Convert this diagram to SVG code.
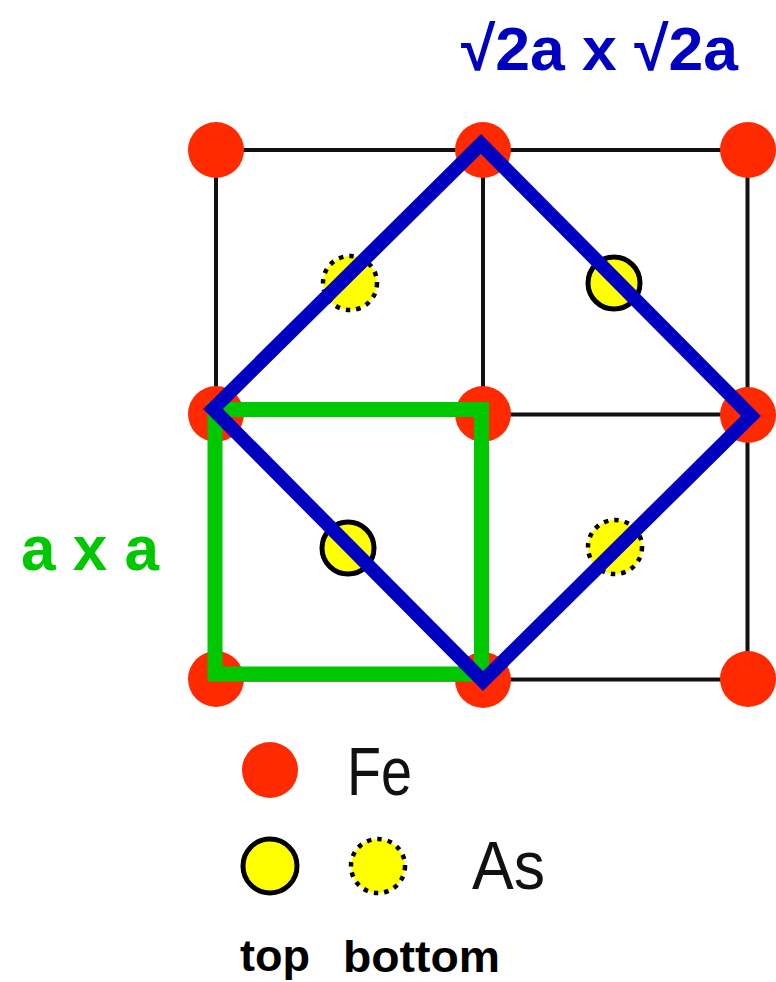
<svg xmlns="http://www.w3.org/2000/svg" width="776" height="982" viewBox="0 0 776 982">
<style>
.grid{stroke:#111;stroke-width:4;fill:none}
.fe{fill:#FF2A00}
.as-top{fill:#FFFF00;stroke:#000;stroke-width:5}
.as-bot{fill:#FFFF00;stroke:#000;stroke-width:4.5;stroke-dasharray:4.5 6}
.lbl{font-family:"Liberation Sans",Arial,sans-serif}
</style>
<rect width="776" height="982" fill="#fff"/>
<g id="grid">
<path class="grid" d="M216 150H748M216 414.5H748M216 679.5H748M216 150V679.5M483 150V679.5M747.5 150V679.5"/>
</g>
<g id="fe-atoms">
<circle class="fe" cx="216" cy="150" r="28"/>
<circle class="fe" cx="483" cy="150" r="28"/>
<circle class="fe" cx="748" cy="150" r="28"/>
<circle class="fe" cx="216" cy="414" r="28"/>
<circle class="fe" cx="483" cy="414" r="28"/>
<circle class="fe" cx="748" cy="415" r="28"/>
<circle class="fe" cx="216" cy="679" r="28"/>
<circle class="fe" cx="483" cy="680" r="28"/>
<circle class="fe" cx="748" cy="679" r="28"/>
</g>
<g id="as-atoms">
<circle class="as-bot" cx="350" cy="283" r="27"/>
<circle class="as-top" cx="614" cy="283" r="26"/>
<circle class="as-top" cx="348" cy="548" r="26"/>
<circle class="as-bot" cx="615" cy="547" r="27"/>
</g>
<g id="cell-axa">
<rect x="215" y="409.5" width="266.5" height="264.5" fill="none" stroke="#00C800" stroke-width="15"/>
</g>
<g id="cell-r2a">
<polygon points="481,144 751,416 483,681 213,409" fill="none" stroke="#0000C0" stroke-width="14" stroke-linejoin="miter"/>
</g>
<g id="titles">
<text class="lbl" x="461" y="70" font-size="62" font-weight="bold" fill="#0000C0" textLength="277" lengthAdjust="spacingAndGlyphs">√2a x √2a</text>
<text class="lbl" x="21" y="570" font-size="63" font-weight="bold" fill="#00C800" textLength="138" lengthAdjust="spacingAndGlyphs">a x a</text>
</g>
<g id="legend">
<circle class="fe" cx="270" cy="770" r="28"/>
<text class="lbl" x="347" y="795" font-size="68" fill="#111" textLength="65" lengthAdjust="spacingAndGlyphs">Fe</text>
<circle class="as-top" cx="270" cy="866" r="27"/>
<circle class="as-bot" cx="378" cy="866" r="27"/>
<text class="lbl" x="472" y="889" font-size="68" fill="#111" textLength="73" lengthAdjust="spacingAndGlyphs">As</text>
<text class="lbl" x="240" y="971" font-size="45" font-weight="bold" fill="#000" textLength="70" lengthAdjust="spacingAndGlyphs">top</text>
<text class="lbl" x="343" y="972" font-size="45" font-weight="bold" fill="#000" textLength="157" lengthAdjust="spacingAndGlyphs">bottom</text>
</g>
</svg>
